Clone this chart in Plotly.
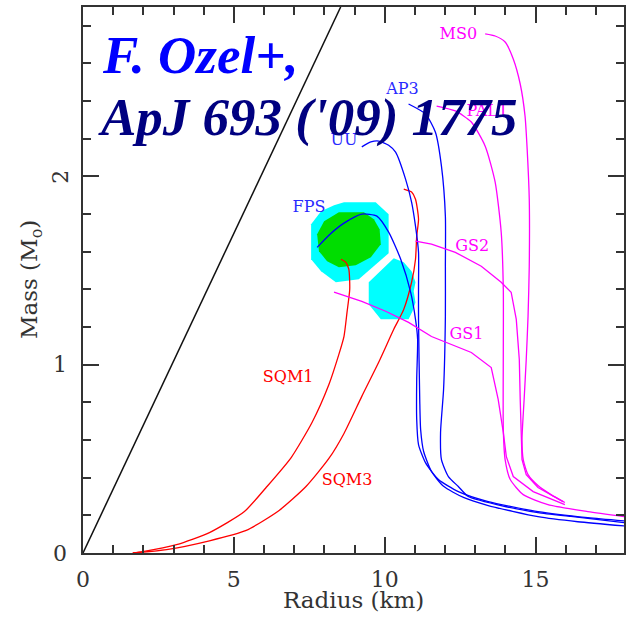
import plotly.graph_objects as go

# ---------------- data ----------------
# Schwarzschild limit line
bh_R = [0.0, 8.54]
bh_M = [0.0, 2.90]

# confidence contours
cyan1_R = [8.65, 9.70, 10.13, 10.13, 9.14, 8.38, 7.89, 7.56, 7.56, 7.89, 8.32]
cyan1_M = [1.863, 1.863, 1.799, 1.592, 1.454, 1.438, 1.496, 1.560, 1.746, 1.815, 1.847]
cyan2_R = [9.47, 10.30, 10.63, 10.89, 11.02, 10.96, 11.02, 10.92, 10.79, 9.87, 9.47]
cyan2_M = [1.438, 1.565, 1.544, 1.496, 1.438, 1.390, 1.331, 1.284, 1.241, 1.241, 1.321]
green_R = [8.48, 9.31, 9.64, 9.83, 9.87, 9.54, 9.04, 8.48, 8.09, 7.82, 7.76, 7.99]
green_M = [1.810, 1.810, 1.773, 1.720, 1.640, 1.571, 1.528, 1.518, 1.550, 1.603, 1.693, 1.762]

# blue EoS curves
uu_R = [9.24, 9.54, 9.80, 10.13, 10.36, 10.69, 10.89, 11.02, 11.12, 11.12, 11.12, 11.16, 11.19, 11.29, 11.55, 11.95, 12.61, 13.43, 15.08, 16.40, 18.0]
uu_M = [2.157, 2.183, 2.188, 2.166, 2.129, 1.986, 1.864, 1.736, 1.598, 1.417, 1.241, 0.816, 0.656, 0.539, 0.433, 0.354, 0.295, 0.252, 0.193, 0.166, 0.143]
ap3_R = [10.79, 11.35, 11.68, 11.88, 12.01, 12.01, 12.01, 11.95, 11.85, 11.88, 12.11, 12.44, 12.77, 13.99, 15.08, 16.17, 18.0]
ap3_M = [2.385, 2.332, 2.235, 2.055, 1.789, 1.523, 1.257, 0.868, 0.640, 0.496, 0.406, 0.353, 0.300, 0.247, 0.215, 0.194, 0.160]
fps_R = [7.76, 8.15, 8.65, 9.24, 9.74, 10.13, 10.53, 10.86, 11.02, 11.09, 11.06, 11.06, 11.12, 11.35, 11.78, 12.44, 13.43, 15.08, 16.73, 18.0]
fps_M = [1.623, 1.688, 1.752, 1.800, 1.789, 1.704, 1.560, 1.384, 1.241, 1.135, 0.922, 0.709, 0.576, 0.480, 0.390, 0.326, 0.273, 0.220, 0.188, 0.170]

# magenta EoS curves
ms0_R = [13.33, 13.66, 13.99, 14.26, 14.49, 14.65, 14.72, 14.79, 14.79, 14.75, 14.69, 14.62, 14.55, 14.59, 14.75, 15.08, 15.51, 15.97]
ms0_M = [2.757, 2.746, 2.714, 2.624, 2.491, 2.321, 2.146, 1.880, 1.523, 1.257, 1.028, 0.816, 0.603, 0.496, 0.416, 0.358, 0.310, 0.268]
pal_R = [11.72, 12.34, 12.87, 13.33, 13.66, 13.86, 13.93, 13.93, 13.93, 13.99, 14.16, 14.59, 15.41, 16.73, 18.0]
pal_M = [2.374, 2.348, 2.289, 2.161, 1.970, 1.704, 1.401, 1.082, 0.656, 0.496, 0.390, 0.310, 0.257, 0.220, 0.192]
gs2_R = [11.02, 11.55, 12.34, 13.20, 13.86, 14.19, 14.36, 14.46, 14.49, 14.52, 14.55, 14.69, 15.08, 15.91]
gs2_M = [1.656, 1.640, 1.597, 1.523, 1.438, 1.385, 1.241, 1.028, 0.816, 0.603, 0.496, 0.416, 0.348, 0.273]
gs1_R = [8.32, 9.24, 10.03, 10.79, 11.55, 12.87, 13.53, 13.76, 13.93, 14.03, 14.26, 14.92, 15.97]
gs1_M = [1.385, 1.337, 1.284, 1.225, 1.150, 1.065, 0.985, 0.816, 0.640, 0.512, 0.406, 0.326, 0.257]

# red strange-quark-matter curves
sqm1_R = [1.65, 1.98, 3.10, 4.19, 5.35, 6.07, 6.90, 7.59, 8.15, 8.48, 8.65, 8.75, 8.84, 8.81, 8.71, 8.55]
sqm1_M = [0.000, 0.007, 0.044, 0.108, 0.220, 0.348, 0.507, 0.693, 0.895, 1.055, 1.151, 1.278, 1.401, 1.507, 1.544, 1.560]
sqm3_R = [1.65, 2.77, 4.19, 5.41, 6.50, 7.39, 8.15, 8.65, 9.24, 9.80, 10.30, 10.63, 10.89, 11.02, 11.06, 11.12, 11.02, 10.89, 10.63]
sqm3_M = [0.000, 0.018, 0.065, 0.120, 0.226, 0.353, 0.502, 0.635, 0.832, 1.013, 1.188, 1.294, 1.438, 1.560, 1.683, 1.773, 1.879, 1.917, 1.933]

# curve labels (centre positions)
label_text = ["MS0", "AP3", "UU", "PAL1", "GS2", "GS1", "FPS", "SQM1", "SQM3"]
label_R = [12.44, 10.59, 8.65, 13.40, 12.90, 12.71, 7.49, 6.80, 8.75]
label_M = [2.752, 2.461, 2.189, 2.344, 1.625, 1.157, 1.830, 0.932, 0.380]
label_color = ["#ff00ff", "#2a2aff", "#2a2aff", "#ff00ff", "#ff00ff", "#ff00ff", "#2a2aff", "#ff0000", "#ff0000"]

x_ticks = [0, 5, 10, 15]
y_tick_labels = ["0", "1", "2"]
y_tick_vals = [0, 1, 2]

# ---------------- figure ----------------
fig = go.Figure()

def poly(R, M, color):
    fig.add_trace(go.Scatter(x=R + [R[0]], y=M + [M[0]], mode="lines", fill="toself",
                             fillcolor=color, line=dict(width=0, color=color),
                             hoverinfo="skip", showlegend=False))

poly(cyan1_R, cyan1_M, "#00ffff")
poly(cyan2_R, cyan2_M, "#00ffff")
poly(green_R, green_M, "#00dd00")

def curve(R, M, color, shape="spline", width=1.3):
    fig.add_trace(go.Scatter(x=R, y=M, mode="lines",
                             line=dict(width=width, color=color, shape=shape, smoothing=0.6),
                             hoverinfo="skip", showlegend=False))

curve(bh_R, bh_M, "#111111", "linear", 1.5)
curve(sqm1_R, sqm1_M, "#ff0000")
curve(sqm3_R, sqm3_M, "#ff0000")
curve(uu_R, uu_M, "#0000ff")
curve(ap3_R, ap3_M, "#0000ff")
curve(fps_R, fps_M, "#0000ff")
curve(ms0_R, ms0_M, "#ff00ff")
curve(pal_R, pal_M, "#ff00ff")
curve(gs2_R, gs2_M, "#ff00ff", "linear")
curve(gs1_R, gs1_M, "#ff00ff", "linear")

fig.add_trace(go.Scatter(x=label_R, y=label_M, mode="text", text=label_text,
                         textposition="middle center",
                         textfont=dict(family="DejaVu Serif", size=16, color=label_color),
                         hoverinfo="skip", showlegend=False))

annotations = []
for t, v in zip(y_tick_labels, y_tick_vals):
    annotations.append(dict(text=t, x=-0.042, xref="paper", y=v, yref="y",
                            showarrow=False, xanchor="center", yanchor="middle",
                            textangle=-90 if t == "2" else 0,
                            font=dict(family="DejaVu Serif", size=22, color="#333333")))
annotations.append(dict(text="Mass (M<sub>o</sub>)", x=-0.096, xref="paper", y=0.5, yref="paper",
                        showarrow=False, textangle=-90, xanchor="center", yanchor="middle",
                        font=dict(family="DejaVu Serif", size=23, color="#333333")))
annotations.append(dict(text="Radius (km)", x=0.5, xref="paper", y=-0.086, yref="paper",
                        showarrow=False, xanchor="center", yanchor="middle",
                        font=dict(family="DejaVu Serif", size=23, color="#333333")))
annotations.append(dict(text="<b><i>F. Ozel+,</i></b>", x=0.031, xref="paper", y=0.912, yref="paper",
                        showarrow=False, xanchor="left", yanchor="middle",
                        font=dict(family="Liberation Serif", size=53, color="#0000ff")))
annotations.append(dict(text="<b><i>ApJ 693 ('09) 1775</i></b>", x=0.024, xref="paper", y=0.797, yref="paper",
                        showarrow=False, xanchor="left", yanchor="middle",
                        font=dict(family="Liberation Serif", size=53, color="#000080")))

axis_common = dict(showgrid=False, zeroline=False, showline=True, linecolor="#333333", linewidth=1.5,
                   mirror="ticks", ticks="inside", ticklen=16, tickwidth=1.5, tickcolor="#333333")

fig.update_layout(
    width=626, height=625,
    margin=dict(l=83, r=0, t=7, b=72),
    paper_bgcolor="white", plot_bgcolor="white",
    xaxis=dict(range=[0, 17.93], tickvals=x_ticks, ticktext=[str(v) for v in x_ticks],
               minor=dict(ticks="inside", ticklen=8, tickwidth=1.5, tickcolor="#333333", dtick=1, showgrid=False),
               tickfont=dict(family="DejaVu Serif", size=22, color="#333333"), ticklabelstandoff=6,
               **axis_common),
    yaxis=dict(range=[0, 2.9], tickvals=y_tick_vals, showticklabels=False,
               minor=dict(ticks="inside", ticklen=8, tickwidth=1.5, tickcolor="#333333", dtick=0.2, tick0=0, showgrid=False),
               **axis_common),
    annotations=annotations,
    showlegend=False,
)

fig.write_html("out.html")
